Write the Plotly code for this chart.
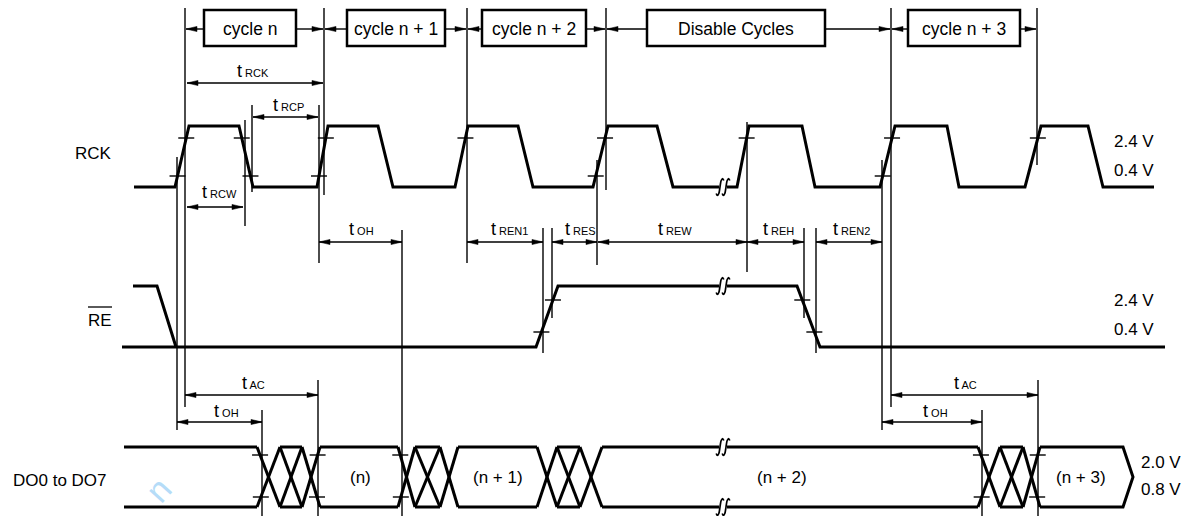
import plotly.graph_objects as go

# ---------------- timing data (positions along the diagram's time axis) ----------------
RCK_HIGH, RCK_LOW, RCK_VIH, RCK_VIL = 126, 187, 138, 176
RCK_START, RCK_END = 134, 1154
# rise start, rise end, fall start, fall end
RCK_PULSES = [(175, 189, 239, 253), (317, 328, 378, 393), (455, 468, 518, 533),
              (593, 608, 657, 673), (737, 749, 802, 815), (880, 895, 947, 959),
              (1025, 1041, 1088, 1103)]
RCK_TICKED = [(0, "rise", "both"), (0, "fall", "both"), (1, "rise", "both"), (2, "rise", "hi"),
              (3, "rise", "both"), (4, "rise", "hi"), (5, "rise", "both"), (6, "rise", "hi")]

RE_HIGH, RE_LOW, RE_VIH, RE_VIL = 286, 347, 300, 332
RE_PRE = (133, 157, 176)            # high start, fall start, fall end
RE_START, RE_END = 122, 1165
RE_PULSE = (536, 558, 797, 820)     # rise start, rise end, fall start, fall end

DO_TOP, DO_BOT, DO_VIH, DO_VIL = 447, 507, 455, 497
DO_START, DO_END, DO_TIP = 124, 1123, 1133
DO_INVALID = [(257, 280, 302, 320), (398, 415, 440, 458), (537, 557, 580, 602), (978, 1000, 1023, 1040)]
DO_TICKED = [(0, "start"), (0, "end"), (1, "start"), (3, "start"), (3, "end")]
DO_LABELS = ["(n)", "(n + 1)", "(n + 2)", "(n + 3)"]
DO_LABEL_X = [360, 498, 782, 1081]

BREAK_X = 723

CYCLE_LABELS = ["cycle n", "cycle n + 1", "cycle n + 2", "Disable Cycles", "cycle n + 3"]
CYCLE_BOUNDS = [185, 324, 467, 606, 891, 1037]
CYCLE_BOX_X = [(204, 296), (347, 445), (482, 586), (647, 825), (908, 1020)]
CYCLE_Y, BOX_Y = 29, (10, 46)

# reference lines: x, y from, y to
REF_LINES = [(185, 8, 407), (177, 157, 430), (245, 120, 226), (252, 105, 192), (324, 8, 195),
             (319, 105, 263), (467, 8, 263), (402, 230, 516), (543, 228, 353), (552, 228, 318),
             (606, 8, 190), (597, 160, 265), (747, 122, 272), (804, 228, 318), (816, 228, 353),
             (891, 8, 407), (882, 160, 430), (1037, 8, 165), (262, 410, 516), (318, 380, 516),
             (982, 410, 516), (1038, 380, 516)]

# timing parameters: from, to, at, subscript, label x, label y
DIMS = [(187, 323, 83, "RCK", 253, 71), (253, 318, 117, "RCP", 288, 105),
        (187, 243, 207, "RCW", 219, 192), (319, 402, 242, "OH", 361, 229),
        (467, 543, 242, "REN1", 509, 229), (552, 597, 242, "RES", 580, 229),
        (598, 747, 242, "REW", 675, 229), (747, 804, 242, "REH", 778, 229),
        (816, 882, 242, "REN2", 851, 229), (185, 318, 395, "AC", 253, 383),
        (177, 262, 422, "OH", 226, 411), (891, 1038, 395, "AC", 965, 383),
        (882, 982, 422, "OH", 935, 411)]

SIGNAL_NAMES = [("RCK", 93, 153), ("RE", 100, 320), ("DO0 to DO7", 60, 480)]
LEVEL_LABELS = [("2.4 V", 1134, 141), ("0.4 V", 1134, 170), ("2.4 V", 1134, 300),
                ("0.4 V", 1134, 329), ("2.0 V", 1161, 462), ("0.8 V", 1161, 489)]

FONT = "Liberation Sans, Arial, Helvetica, sans-serif"

# ---------------- build geometry ----------------
thick_x, thick_y = [], []
thin_x, thin_y = [], []
head_x, head_y = [], []
white_x, white_y = [], []


def seg(X, Y, xs, ys):
    X.extend(list(xs) + [None])
    Y.extend(list(ys) + [None])


def cross(x0, y0, x1, y1, y):
    return x0 + (x1 - x0) * (y - y0) / (y1 - y0)


def tick(xc, y, hw=8):
    seg(thin_x, thin_y, [xc - hw, xc + hw], [y, y])


def head(xt, y, direction):
    L, w = 11, 2.6
    seg(head_x, head_y, [xt, xt - direction * L, xt - direction * L, xt], [y, y - w, y + w, y])


def dim(x0, x1, y):
    seg(thin_x, thin_y, [x0, x1], [y, y])
    head(x0, y, -1)
    head(x1, y, 1)


# RCK
xs, ys = [RCK_START], [RCK_LOW]
for r0, r1, f0, f1 in RCK_PULSES:
    xs += [r0, r1, f0, f1]
    ys += [RCK_LOW, RCK_HIGH, RCK_HIGH, RCK_LOW]
xs.append(RCK_END); ys.append(RCK_LOW)
seg(thick_x, thick_y, xs, ys)
for i, edge, which in RCK_TICKED:
    r0, r1, f0, f1 = RCK_PULSES[i]
    if edge == "rise":
        p = (r0, RCK_LOW, r1, RCK_HIGH)
    else:
        p = (f0, RCK_HIGH, f1, RCK_LOW)
    tick(cross(*p, RCK_VIH), RCK_VIH)
    if which == "both":
        tick(cross(*p, RCK_VIL), RCK_VIL)

# RE
seg(thick_x, thick_y, [RE_PRE[0], RE_PRE[1], RE_PRE[2]], [RE_HIGH, RE_HIGH, RE_LOW])
r0, r1, f0, f1 = RE_PULSE
seg(thick_x, thick_y, [RE_START, r0, r1, f0, f1, RE_END],
    [RE_LOW, RE_LOW, RE_HIGH, RE_HIGH, RE_LOW, RE_LOW])
for p in [(r0, RE_LOW, r1, RE_HIGH), (f0, RE_HIGH, f1, RE_LOW)]:
    tick(cross(*p, RE_VIH), RE_VIH)
    tick(cross(*p, RE_VIL), RE_VIL)

# DO bus
DO_MID = (DO_TOP + DO_BOT) / 2
prev = DO_START
for a, b, c, d in DO_INVALID:
    seg(thick_x, thick_y, [prev, a], [DO_TOP, DO_TOP])
    seg(thick_x, thick_y, [prev, a], [DO_BOT, DO_BOT])
    for p, q in [(a, b), (b, c), (c, d)]:
        seg(thick_x, thick_y, [p, q], [DO_TOP, DO_BOT])
        seg(thick_x, thick_y, [p, q], [DO_BOT, DO_TOP])
    seg(thick_x, thick_y, [b, c], [DO_TOP, DO_TOP])
    seg(thick_x, thick_y, [b, c], [DO_BOT, DO_BOT])
    prev = d
seg(thick_x, thick_y, [prev, DO_END, DO_TIP, DO_END, prev], [DO_TOP, DO_TOP, DO_MID, DO_BOT, DO_BOT])
for i, side in DO_TICKED:
    a, b, c, d = DO_INVALID[i]
    if side == "start":
        tick(cross(a, DO_TOP, b, DO_BOT, DO_VIH), DO_VIH)
        tick(cross(a, DO_BOT, b, DO_TOP, DO_VIL), DO_VIL)
    else:
        tick(cross(c, DO_BOT, d, DO_TOP, DO_VIH), DO_VIH)
        tick(cross(c, DO_TOP, d, DO_BOT, DO_VIL), DO_VIL)

# reference lines
for x, y0, y1 in REF_LINES:
    seg(thin_x, thin_y, [x, x], [y0, y1])

# dimensions
for x0, x1, y, *_ in DIMS:
    dim(x0, x1, y)

# cycle row arrows
for (bx0, bx1), L, R in zip(CYCLE_BOX_X, CYCLE_BOUNDS[:-1], CYCLE_BOUNDS[1:]):
    seg(thin_x, thin_y, [L + 1, bx0], [CYCLE_Y, CYCLE_Y])
    seg(thin_x, thin_y, [bx1, R - 1], [CYCLE_Y, CYCLE_Y])
    head(L + 1, CYCLE_Y, -1)
    head(R - 1, CYCLE_Y, 1)

# break marks (integral-like double S)
break_levels = [RCK_LOW, RE_HIGH, DO_TOP, DO_BOT]
s_x, s_y = [], []
for yl in break_levels:
    seg(white_x, white_y, [BREAK_X - 4, BREAK_X + 4], [yl, yl])
    for cx in (BREAK_X - 3, BREAK_X + 3):
        seg(s_x, s_y, [cx - 3.8, cx - 2.6, cx - 1.2, cx - 0.3, cx + 0.3, cx + 1.2, cx + 2.6, cx + 3.8],
            [yl + 6.5, yl + 8.5, yl + 6.5, yl + 2, yl - 2, yl - 6.5, yl - 8.5, yl - 6.5])

# ---------------- figure ----------------
fig = go.Figure()


def add(X, Y, width, color="black", shape="linear", fill=None):
    fig.add_trace(go.Scatter(x=X, y=Y, mode="lines", line=dict(color=color, width=width, shape=shape),
                             fill=fill, fillcolor=color if fill else None,
                             hoverinfo="skip", showlegend=False))


add(thin_x, thin_y, 1.4)
add(thick_x, thick_y, 3)
add(white_x, white_y, 6, color="white")
add(s_x, s_y, 1.7, shape="spline")
add(head_x, head_y, 0.5, fill="toself")

shapes = []
for bx0, bx1 in CYCLE_BOX_X:
    shapes.append(dict(type="rect", xref="x", yref="y", x0=bx0, x1=bx1, y0=BOX_Y[0], y1=BOX_Y[1],
                       line=dict(color="black", width=2.5), fillcolor="white"))
# overline for RE
shapes.append(dict(type="line", xref="x", yref="y", x0=88, x1=112, y0=307, y1=307,
                   line=dict(color="black", width=1.3)))

ann = []
for lab, (bx0, bx1) in zip(CYCLE_LABELS, CYCLE_BOX_X):
    ann.append(dict(x=(bx0 + bx1) / 2, y=CYCLE_Y, text=lab, font=dict(size=17.5)))
for x0, x1, y, sub, lx, ly in DIMS:
    ann.append(dict(x=lx, y=ly, text="t<span style='font-size:11px'> " + sub + "</span>",
                    font=dict(size=18)))
for lab, x, y in SIGNAL_NAMES:
    ann.append(dict(x=x, y=y, text=lab, font=dict(size=17)))
for lab, x, y in LEVEL_LABELS:
    ann.append(dict(x=x, y=y, text=lab, font=dict(size=17)))
for lab, x in zip(DO_LABELS, DO_LABEL_X):
    ann.append(dict(x=x, y=DO_MID, text=lab, font=dict(size=17)))
for a in ann:
    a.update(xref="x", yref="y", showarrow=False, xanchor="center", yanchor="middle")
    a["font"].update(family=FONT, color="black")
# faint watermark stroke
ann.append(dict(x=158, y=490, xref="x", yref="y", text="n", showarrow=False, textangle=-48,
                font=dict(family=FONT, size=34, color="#b5dcf8")))

fig.update_layout(width=1198, height=516, margin=dict(l=0, r=0, t=0, b=0),
                  paper_bgcolor="white", plot_bgcolor="white", showlegend=False,
                  xaxis=dict(range=[0, 1198], visible=False, fixedrange=True),
                  yaxis=dict(range=[516, 0], visible=False, fixedrange=True),
                  shapes=shapes, annotations=ann)

fig.write_html("out.html", config={"displayModeBar": False},
               post_script="document.body.style.margin='0';document.body.style.overflow='hidden';")
